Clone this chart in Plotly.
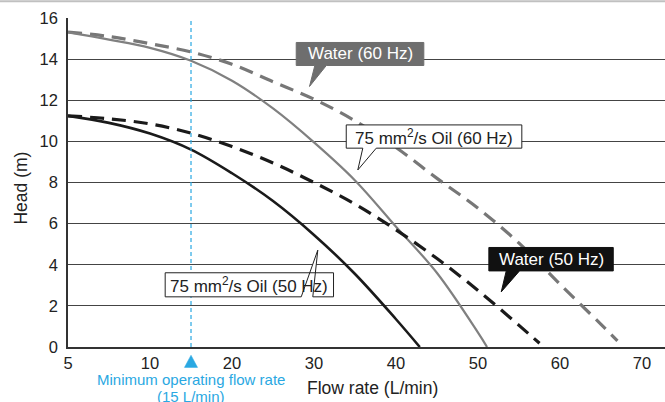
import plotly.graph_objects as go

# ---------------- data ----------------
water60_x = [0, 5, 10, 15, 20, 25, 30, 35, 40, 45, 50, 55, 60, 65, 67.0]
water60_y = [15.32, 15.1, 14.75, 14.35, 13.75, 12.9, 12.05, 11.0, 9.7, 8.2, 6.75, 5.05, 3.05, 1.1, 0.3]

oil60_x = [0, 5, 10, 15, 20, 25, 30, 35, 40, 45, 50, 51.1]
oil60_y = [15.3, 14.95, 14.55, 13.92, 12.95, 11.6, 9.95, 8.1, 5.85, 3.6, 0.7, 0.0]

water50_x = [0, 5, 10, 15, 20, 25, 30, 35, 40, 45, 50, 55, 57.5]
water50_y = [11.24, 11.1, 10.85, 10.4, 9.75, 8.95, 8.0, 6.95, 5.7, 4.3, 2.75, 1.05, 0.18]

oil50_x = [0, 5, 10, 15, 20, 25, 30, 35, 40, 42.9]
oil50_y = [11.24, 10.9, 10.38, 9.6, 8.45, 7.1, 5.45, 3.55, 1.35, 0.0]

min_flow = 15
x_tickvals = [0, 10, 20, 30, 40, 50, 60, 70]
x_ticktext = ["5", "10", "20", "30", "40", "50", "60", "70"]
y_tickvals = [0, 2, 4, 6, 8, 10, 12, 14, 16]

FONT = "Liberation Sans, Arial, sans-serif"
GRAY = "#777777"
BLACK = "#1a1a1a"
BLUE = "#2aa8e2"

fig = go.Figure()

fig.add_trace(go.Scatter(x=water60_x, y=water60_y, mode="lines",
                         line=dict(color=GRAY, width=3.2, dash="14px,8px", shape="spline", smoothing=1.0)))
fig.add_trace(go.Scatter(x=oil60_x, y=oil60_y, mode="lines",
                         line=dict(color="#808080", width=2.2, shape="spline", smoothing=1.0)))
fig.add_trace(go.Scatter(x=water50_x, y=water50_y, mode="lines",
                         line=dict(color=BLACK, width=3.2, dash="14px,8px", shape="spline", smoothing=1.0)))
fig.add_trace(go.Scatter(x=oil50_x, y=oil50_y, mode="lines",
                         line=dict(color=BLACK, width=2.6, shape="spline", smoothing=1.0)))

shapes = []
shapes.append(dict(type="line", xref="x", yref="paper", x0=min_flow, x1=min_flow, y0=0, y1=1,
                   line=dict(color=BLUE, width=1.2, dash="4px,3px"), layer="above"))
# triangle marker under the axis at the minimum flow
hw = 0.8
shapes.append(dict(type="path", xref="x", yref="paper",
                   path=f"M {min_flow - hw},-0.062 L {min_flow + hw},-0.062 L {min_flow},-0.025 Z",
                   fillcolor=BLUE, line=dict(color=BLUE, width=0.5)))
# top light border line
shapes.append(dict(type="line", xref="paper", yref="paper", x0=-0.12, x1=1.0, y0=1.051, y1=1.051,
                   line=dict(color="#c0c0c0", width=2)))


def callout(x0, x1, ytop, ybot, bx1, bx2, ax, ay, fill, border):
    path = (f"M {x0},{ytop} L {x1},{ytop} L {x1},{ybot} L {bx2},{ybot} "
            f"L {ax},{ay} L {bx1},{ybot} L {x0},{ybot} Z")
    return dict(type="path", xref="x", yref="y", path=path, fillcolor=fill,
                line=dict(color=border, width=1), layer="above")


shapes.append(callout(27.83, 43.39, 14.81, 13.69, 30.1, 31.5, 29.45, 12.67, "#6e6e6e", "#6e6e6e"))
shapes.append(callout(33.93, 55.34, 10.80, 9.67, 35.95, 37.59, 35.34, 8.61, "white", "#222222"))
shapes.append(callout(11.85, 32.38, 3.61, 2.44, 28.44, 29.85, 30.46, 4.71, "white", "#222222"))
shapes.append(callout(51.32, 66.49, 4.84, 3.70, 53.44, 55.06, 52.83, 2.68, "#111111", "#111111"))

LBL = 17
annotations = [
    dict(x=(27.83 + 43.39) / 2, y=(14.81 + 13.69) / 2, xref="x", yref="y", text="Water (60 Hz)",
         showarrow=False, font=dict(family=FONT, size=LBL, color="white")),
    dict(x=(33.93 + 55.34) / 2, y=(10.80 + 9.67) / 2, xref="x", yref="y",
         text="75 mm<sup>2</sup>/s Oil (60 Hz)",
         showarrow=False, font=dict(family=FONT, size=LBL, color="#222222")),
    dict(x=(11.85 + 32.38) / 2, y=(3.61 + 2.44) / 2, xref="x", yref="y",
         text="75 mm<sup>2</sup>/s Oil (50 Hz)",
         showarrow=False, font=dict(family=FONT, size=LBL, color="#222222")),
    dict(x=(51.32 + 66.49) / 2, y=(4.84 + 3.70) / 2, xref="x", yref="y", text="Water (50 Hz)",
         showarrow=False, font=dict(family=FONT, size=LBL, color="white")),
    dict(x=min_flow, y=-0.098, xref="x", yref="paper", yanchor="middle", xanchor="center",
         text="Minimum operating flow rate",
         showarrow=False, font=dict(family=FONT, size=15, color=BLUE)),
    dict(x=min_flow, y=-0.150, xref="x", yref="paper", yanchor="middle", xanchor="center",
         text="(15 L/min)",
         showarrow=False, font=dict(family=FONT, size=15, color=BLUE)),
    dict(x=37.1, y=-0.125, xref="x", yref="paper", yanchor="middle", xanchor="center",
         text="Flow rate (L/min)",
         showarrow=False, font=dict(family=FONT, size=17.5, color="#222222")),
    dict(x=-0.078, y=0.483, xref="paper", yref="paper", yanchor="middle", xanchor="center",
         text="Head (m)", textangle=-90,
         showarrow=False, font=dict(family=FONT, size=17.5, color="#222222")),
]

fig.update_layout(
    width=665, height=402,
    margin=dict(l=68, r=0, t=18, b=55),
    paper_bgcolor="white", plot_bgcolor="white",
    showlegend=False,
    shapes=shapes, annotations=annotations,
    font=dict(family=FONT, size=16, color="#222222"),
    xaxis=dict(range=[0, 72.8], tickvals=x_tickvals, ticktext=x_ticktext, showgrid=False,
               zeroline=False, showline=True, linecolor="#333333", linewidth=1.5,
               ticks="", ticklabelstandoff=0, tickfont=dict(size=16.5)),
    yaxis=dict(range=[0, 16], tickvals=y_tickvals, showgrid=True, gridcolor="#444444", gridwidth=1,
               zeroline=False, showline=True, linecolor="#333333", linewidth=1.5,
               ticks="", ticklabelstandoff=5, tickfont=dict(size=16.5)),
)

fig.write_html("out.html", config={"displayModeBar": False},
               post_script="document.body.style.margin='0';")
